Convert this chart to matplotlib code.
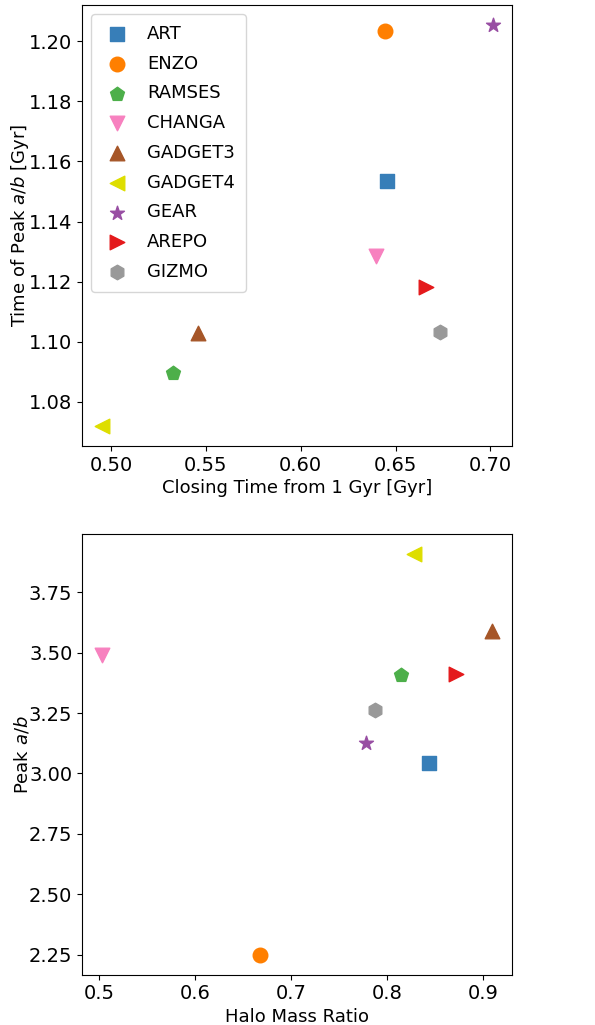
import matplotlib
matplotlib.use('Agg')
import matplotlib.pyplot as plt

codes   = ['ART', 'ENZO', 'RAMSES', 'CHANGA', 'GADGET3', 'GADGET4', 'GEAR', 'AREPO', 'GIZMO']
markers = ['s', 'o', 'p', 'v', '^', '<', '*', '>', 'h']
colors  = ['#377eb8', '#ff7f00', '#4daf4a', '#f781bf', '#a65628', '#dede00', '#984ea3', '#e41a1c', '#999999']

# top panel
closing_time = [0.6455, 0.6443, 0.5324, 0.6397, 0.5459, 0.4953, 0.7015, 0.6660, 0.6736]
peak_time    = [1.1535, 1.2033, 1.0897, 1.1285, 1.1030, 1.0721, 1.2055, 1.1183, 1.1034]

# bottom panel
mass_ratio = [0.8435, 0.6679, 0.8143, 0.5030, 0.9087, 0.8282, 0.7782, 0.8716, 0.7872]
peak_ab    = [3.043, 2.250, 3.408, 3.491, 3.590, 3.907, 3.125, 3.411, 3.262]

plt.rcParams['font.size'] = 13
plt.rcParams['xtick.labelsize'] = 14
plt.rcParams['ytick.labelsize'] = 14

fig = plt.figure(figsize=(5.95, 10.25), dpi=100)
ax1 = fig.add_axes([0.138, 0.565, 0.723, 0.430])
ax2 = fig.add_axes([0.138, 0.049, 0.723, 0.430])

for i in range(len(codes)):
	ax1.scatter(closing_time[i], peak_time[i], marker=markers[i], color=colors[i], s=110, label=codes[i])
	ax2.scatter(mass_ratio[i], peak_ab[i], marker=markers[i], color=colors[i], s=110, label=codes[i])

ax1.set_xlim(0.4847, 0.7116)
ax1.set_ylim(1.0654, 1.2120)
ax1.set_xlabel('Closing Time from 1 Gyr [Gyr]', labelpad=3)
ax1.set_ylabel('Time of Peak $a/b$ [Gyr]')
ax1.yaxis.set_label_coords(-0.118, 0.5)
ax1.set_xticks([0.50, 0.55, 0.60, 0.65, 0.70])
ax1.set_yticks([1.08, 1.10, 1.12, 1.14, 1.16, 1.18, 1.20])
ax1.legend(loc='upper left', labelspacing=0.65, borderpad=0.6, handlelength=1.7)

ax2.set_xlim(0.4823, 0.930)
ax2.set_ylim(2.167, 3.991)
ax2.set_xlabel('Halo Mass Ratio', labelpad=3)
ax2.set_ylabel('Peak $a/b$')
ax2.yaxis.set_label_coords(-0.118, 0.5)
ax2.set_xticks([0.5, 0.6, 0.7, 0.8, 0.9])
ax2.set_yticks([2.25, 2.50, 2.75, 3.00, 3.25, 3.50, 3.75])

plt.savefig('out.png', dpi=100)
